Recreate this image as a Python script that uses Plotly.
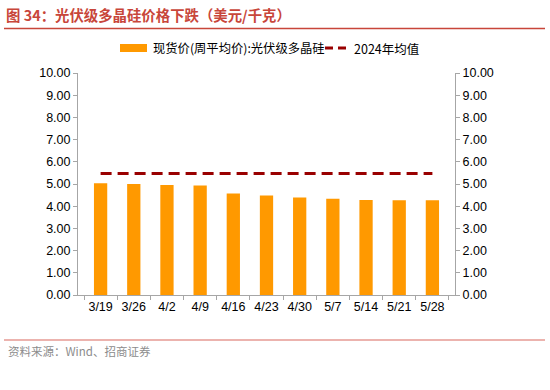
import plotly.graph_objects as go

categories = ["3/19", "3/26", "4/2", "4/9", "4/16", "4/23", "4/30", "5/7", "5/14", "5/21", "5/28"]
spot_price = [5.03, 5.00, 4.96, 4.93, 4.57, 4.48, 4.39, 4.33, 4.28, 4.27, 4.27]
avg_2024 = [5.47] * len(categories)
y_ticks = [0, 1, 2, 3, 4, 5, 6, 7, 8, 9, 10]
y_tick_labels = [f"{v:.2f}" for v in y_ticks]
series_names = ["现货价(周平均价):光伏级多晶硅", "2024年均值"]

W, H = 550, 390
# plot area in reference pixels: x 78..455, y 73..295
L, T = 78, 73
PW, PH = 455 - 78, 295 - 73
R, B = W - L - PW, H - T - PH

def px_x(px):
    return (px - 78) / PW

def px_y(py):
    return (295 - py) / PH

FONT = "Liberation Sans, Arial, Noto Sans CJK SC, sans-serif"
CJK = "Noto Sans CJK SC, Liberation Sans, sans-serif"
BAR_C = "#FF9900"
LINE_C = "#990000"

fig = go.Figure()
fig.add_trace(go.Bar(
    x=categories, y=spot_price, name=series_names[0],
    marker=dict(color=BAR_C, line=dict(width=0)), width=0.4,
))
fig.add_trace(go.Scatter(
    x=categories, y=avg_2024, name=series_names[1], mode="lines",
    line=dict(color=LINE_C, width=3, dash="11px,6px"),
))
fig.add_trace(go.Scatter(x=categories, y=spot_price, yaxis="y2", mode="markers",
                         marker=dict(opacity=0), showlegend=False, hoverinfo="skip"))

axis_common = dict(range=[0, 10], tickvals=y_ticks, ticktext=y_tick_labels,
                   showgrid=False, zeroline=False, showline=True, linecolor="#A6A6A6",
                   linewidth=1, ticks="outside", ticklen=4, tickcolor="#A6A6A6",
                   automargin=False,
                   tickfont=dict(family=FONT, size=12.5, color="#000000"))

fig.update_layout(
    width=W, height=H,
    margin=dict(l=L, r=R, t=T, b=B, autoexpand=False),
    paper_bgcolor="white", plot_bgcolor="white",
    showlegend=False,
    xaxis=dict(showgrid=False, showline=True, linecolor="#A6A6A6", linewidth=1,
               ticks="outside", ticklen=4, tickcolor="#A6A6A6", tickson="boundaries",
               tickangle=0, automargin=False,
               tickfont=dict(family=FONT, size=12.5, color="#000000")),
    yaxis=dict(**axis_common),
    yaxis2=dict(**axis_common, overlaying="y", side="right"),
)

# custom legend
ly = 48
fig.add_shape(type="rect", xref="paper", yref="paper", x0=px_x(120), x1=px_x(147),
              y0=px_y(ly + 4), y1=px_y(ly - 4), fillcolor=BAR_C, line=dict(width=0))
fig.add_annotation(text=series_names[0], xref="paper", yref="paper", x=px_x(151), y=px_y(ly),
                   xanchor="left", yanchor="middle", showarrow=False,
                   font=dict(family=CJK, size=12.3, color="#000000"))
fig.add_shape(type="line", xref="paper", yref="paper", x0=px_x(325), x1=px_x(346),
              y0=px_y(ly), y1=px_y(ly), line=dict(color=LINE_C, width=3, dash="8px,5px"))
fig.add_annotation(text=series_names[1], xref="paper", yref="paper", x=px_x(352), y=px_y(ly),
                   xanchor="left", yanchor="middle", showarrow=False,
                   font=dict(family=CJK, size=12.5, color="#000000"))

fig.add_annotation(text="<b>图 34：光伏级多晶硅价格下跌（美元/千克）</b>", xref="paper", yref="paper",
                   x=px_x(5), y=px_y(14), xanchor="left", yanchor="middle", showarrow=False,
                   borderpad=0, font=dict(family=CJK, size=14.4, color="#C8463A"))
fig.add_shape(type="line", xref="paper", yref="paper", x0=px_x(4), x1=px_x(545),
              y0=px_y(28.5), y1=px_y(28.5), line=dict(color="#C8463A", width=1.5))
fig.add_shape(type="line", xref="paper", yref="paper", x0=px_x(4), x1=px_x(545),
              y0=px_y(340), y1=px_y(340), line=dict(color="#D9695F", width=1.2))
fig.add_annotation(text="资料来源：Wind、招商证券", xref="paper", yref="paper",
                   x=px_x(6), y=px_y(351), xanchor="left", yanchor="middle", showarrow=False,
                   font=dict(family=CJK, size=11.5, color="#8C8C8C"))

fig.write_html("out.html", config={"displayModeBar": False},
               post_script="document.body.style.margin='0';document.body.style.padding='0';")
